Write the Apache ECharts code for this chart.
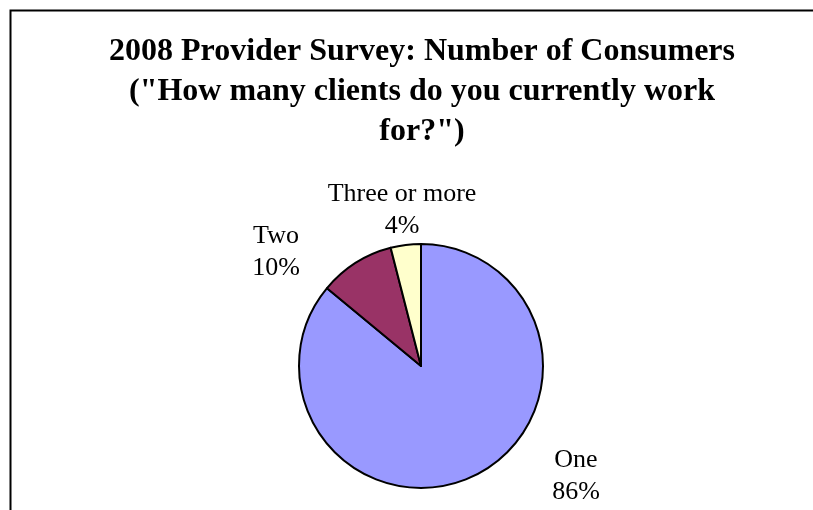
<!DOCTYPE html>
<html>
<head>
<meta charset="utf-8">
<script src="https://cdn.jsdelivr.net/npm/echarts@6/dist/echarts.min.js"></script>
<style>
  html, body { margin: 0; padding: 0; background: #fff; }
  #chart { width: 813px; height: 510px; }
</style>
</head>
<body>
<div id="chart"></div>
<script>
// Survey responses: number of clients each provider works for
const categories = ['One', 'Two', 'Three or more'];
const shares = [86, 10, 4];
const sliceColors = ['#9999FF', '#993366', '#FFFFCC'];
// Label anchor points (centre of each two-line label)
const labelAnchors = [[576, 476], [276, 252], [402, 210]];

const chart = echarts.init(document.getElementById('chart'), null, { renderer: 'canvas' });

chart.setOption({
  backgroundColor: '#ffffff',
  animation: false,
  title: {
    text: '2008 Provider Survey: Number of Consumers\n("How many clients do you currently work\nfor?")',
    left: 417,
    top: 27,
    textAlign: 'center',
    textStyle: {
      fontFamily: 'Liberation Serif',
      fontWeight: 'bold',
      fontSize: 32,
      lineHeight: 40,
      color: '#000'
    }
  },
  graphic: [{
    type: 'rect',
    shape: { x: 10.5, y: 10.5, width: 900, height: 600 },
    style: { fill: 'none', stroke: '#000', lineWidth: 2 },
    silent: true
  }],
  series: [{
    type: 'pie',
    center: [421, 366],
    radius: [0, 122],
    startAngle: 90,
    clockwise: true,
    data: categories.map((name, i) => ({
      name,
      value: shares[i],
      itemStyle: { color: sliceColors[i] }
    })),
    itemStyle: { borderColor: '#000', borderWidth: 2 },
    label: {
      show: true,
      position: 'outside',
      formatter: p => p.name + '\n' + p.value + '%',
      fontFamily: 'Liberation Serif',
      fontSize: 26,
      lineHeight: 32,
      color: '#000',
      align: 'center'
    },
    labelLine: { show: false },
    labelLayout: params => ({
      x: labelAnchors[params.dataIndex][0],
      y: labelAnchors[params.dataIndex][1],
      align: 'center',
      verticalAlign: 'middle'
    }),
    emphasis: { disabled: true }
  }]
});
</script>
</body>
</html>
